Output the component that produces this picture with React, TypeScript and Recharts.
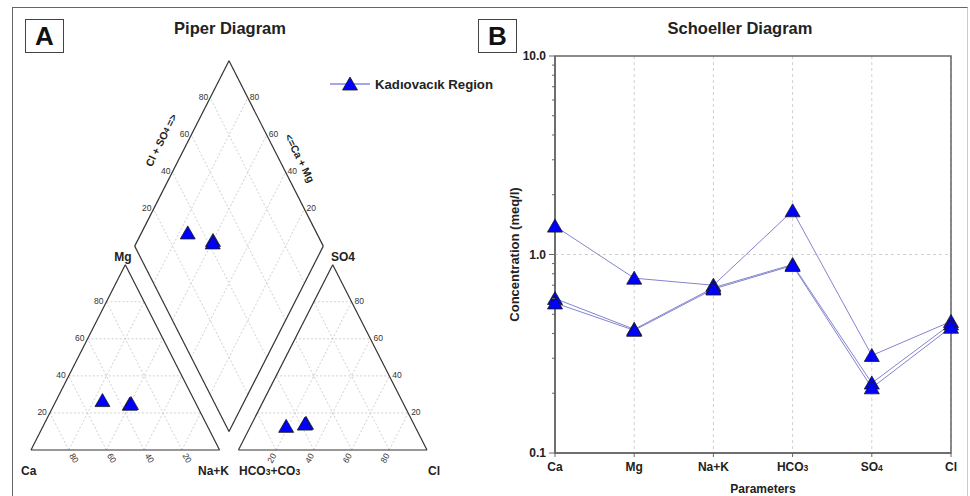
import React from 'react';
import {
  ScatterChart, Scatter, XAxis, YAxis, ReferenceLine, ReferenceArea,
  LineChart, Line, CartesianGrid, Label,
} from 'recharts';

// Schoeller values (meq/l), one array per sample
const params = ['Ca', 'Mg', 'Na+K', 'HCO3', 'SO4', 'Cl'];
const sample1 = [1.39, 0.76, 0.70, 1.66, 0.31, 0.46];
const sample2 = [0.60, 0.42, 0.68, 0.89, 0.225, 0.447];
const sample3 = [0.57, 0.415, 0.67, 0.88, 0.213, 0.43];
const samples = [sample1, sample2, sample3];

const gridSteps = [20, 40, 60, 80];
const yTicks = [0.1, 0.2, 0.3, 0.4, 0.5, 0.6, 0.7, 0.8, 0.9, 1, 2, 3, 4, 5, 6, 7, 8, 9, 10];
const yMajor = [0.1, 1, 10];

const FONT = '"Liberation Sans", Arial, sans-serif';
const MARKER = '#0000ff';

// piper geometry (percent units)
const H = Math.sqrt(3) / 2;
const GAP = 10;
const ANION_X = 100 + GAP;
const tern = (ox: number, r: number, t: number) => ({ x: ox + r + t / 2, y: t * H });
const diamond = (a: number, c: number) => ({
  x: 100 + GAP / 2 + (a - c) / 2,
  y: GAP * H + (a + c) * H,
});

const piper = samples.map((s) => {
  const [ca, mg, nak, hco3, so4, cl] = s;
  const cat = ca + mg + nak;
  const an = hco3 + so4 + cl;
  const pMg = (mg / cat) * 100;
  const pNaK = (nak / cat) * 100;
  const pSO4 = (so4 / an) * 100;
  const pCl = (cl / an) * 100;
  return {
    cation: tern(0, pNaK, pMg),
    anion: tern(ANION_X, pCl, pSO4),
    diamond: diamond(pCl + pSO4, 100 - pNaK),
  };
});
const piperPoints = piper.flatMap((p) => [p.cation, p.anion, p.diamond]);

type Pt = { x: number; y: number };
const triGrid = (ox: number): Pt[][] =>
  gridSteps.flatMap((v) => [
    [tern(ox, 0, v), tern(ox, 100 - v, v)],
    [tern(ox, v, 0), tern(ox, v, 100 - v)],
    [tern(ox, 100 - v, 0), tern(ox, 0, 100 - v)],
  ]);
const diamondGrid: Pt[][] = gridSteps.flatMap((v) => [
  [diamond(v, 0), diamond(v, 100)],
  [diamond(0, v), diamond(100, v)],
]);
const outline = (pts: Pt[]): Pt[][] => pts.map((p, i) => [p, pts[(i + 1) % pts.length]]);
const outlines = [
  ...outline([tern(0, 0, 0), tern(0, 100, 0), tern(0, 0, 100)]),
  ...outline([tern(ANION_X, 0, 0), tern(ANION_X, 100, 0), tern(ANION_X, 0, 100)]),
  ...outline([diamond(0, 0), diamond(100, 0), diamond(100, 100), diamond(0, 100)]),
];
const gridSegs = [...triGrid(0), ...triGrid(ANION_X), ...diamondGrid];

const cationLeftTicks = gridSteps.map((v) => ({ ...tern(0, 0, v), label: v }));
const cationBottomTicks = gridSteps.map((v) => ({ ...tern(0, 100 - v, 0), label: v }));
const anionRightTicks = gridSteps.map((v) => ({ ...tern(ANION_X, 100 - v, v), label: v }));
const anionBottomTicks = gridSteps.map((v) => ({ ...tern(ANION_X, v, 0), label: v }));
const diamondLeftTicks = gridSteps.map((v) => ({ ...diamond(v, 100), label: v }));
const diamondRightTicks = gridSteps.map((v) => ({ ...diamond(100, v), label: v }));

const schoellerData = params.map((p, i) => ({
  param: p, s1: sample1[i], s2: sample2[i], s3: sample3[i],
}));

const tri = (cx: number, cy: number) =>
  `${cx},${cy - 7} ${cx - 7.5},${cy + 6} ${cx + 7.5},${cy + 6}`;

const Marker = (props: any) => {
  const { cx, cy } = props;
  if (cx == null || cy == null) return <g />;
  return <polygon points={tri(cx, cy)} fill={MARKER} stroke="#1a1a1a" strokeWidth={0.8} />;
};

const tickText = (dx: number, dy: number, anchor: string, angle = 0) => (props: any) => {
  const { cx, cy, payload } = props;
  const x = cx + dx;
  const y = cy + dy;
  return (
    <text x={x} y={y} textAnchor={anchor} dominantBaseline="central" fontSize={8.5}
      fill="#333" fontFamily={FONT}
      transform={angle ? `rotate(${angle} ${x} ${y})` : undefined}>
      {payload.label}
    </text>
  );
};

const XTick = (props: any) => {
  const { x, y, payload } = props;
  const v: string = payload.value;
  const m = v.match(/^(.*?)(\d)$/);
  return (
    <text x={x} y={y} dy="0.71em" textAnchor="middle" fontWeight="bold" fontSize={12}
      fill="#222" fontFamily={FONT}>
      {m ? (<><tspan>{m[1]}</tspan><tspan fontSize={8.5}>{m[2]}</tspan></>) : v}
    </text>
  );
};

const YTick = (props: any) => {
  const { x, y, payload } = props;
  const v = payload.value;
  const major = yMajor.includes(v);
  return (
    <g>
      <line x1={x + (major ? 2 : 5)} x2={x + 8} y1={y} y2={y} stroke="#666" strokeWidth={1} />
      {major && (
        <text x={x - 1} y={y} textAnchor="end" dominantBaseline="central" fontWeight="bold"
          fontSize={12} fill="#222" fontFamily={FONT}>
          {v.toFixed(1)}
        </text>
      )}
    </g>
  );
};

const boxStyle = (left: number): React.CSSProperties => ({
  position: 'absolute', left, top: 19, width: 39, height: 34, boxSizing: 'border-box',
  border: '1.5px solid #444', display: 'flex', alignItems: 'center', justifyContent: 'center',
  fontWeight: 'bold', fontSize: 26, fontFamily: FONT, color: '#111', background: '#fff',
});

const titleStyle = (center: number): React.CSSProperties => ({
  position: 'absolute', left: center - 120, width: 240, top: 20, textAlign: 'center',
  fontWeight: 'bold', fontSize: 16.5, lineHeight: 1, fontFamily: FONT, color: '#222',
});

const lbl = { fontWeight: 'bold' as const, fontSize: 12, fill: '#222', fontFamily: FONT };

export default function App() {
  return (
    <div style={{ position: 'absolute', left: 0, top: 0, width: 970, height: 496, background: '#fff', overflow: 'hidden' }}>
      <div style={{ position: 'absolute', left: 12, top: 7, width: 956, height: 500, boxSizing: 'border-box', borderLeft: '1.5px solid #666', borderTop: '1.5px solid #666', borderRight: '1px solid #ccc' }} />

      {/* Piper diagram */}
      <div style={{ position: 'absolute', left: 0, top: 0 }}>
        <ScatterChart width={450} height={496} margin={{ top: 22, right: 23, bottom: 46, left: 31 }}>
          <XAxis type="number" dataKey="x" domain={[0, 210]} hide />
          <YAxis type="number" dataKey="y" domain={[0, 200]} hide />
          {gridSegs.map((s, i) => (
            <ReferenceLine key={`g${i}`} segment={s} stroke="#c4c4c4" strokeWidth={0.8}
              strokeDasharray="2 2" ifOverflow="visible" />
          ))}
          {outlines.map((s, i) => (
            <ReferenceLine key={`o${i}`} segment={s} stroke="#333" strokeWidth={1.2} ifOverflow="visible" />
          ))}
          <Scatter data={cationLeftTicks} shape={tickText(-3, -1, 'end')} isAnimationActive={false} />
          <Scatter data={cationBottomTicks} shape={tickText(3, 4, 'start', 60)} isAnimationActive={false} />
          <Scatter data={anionRightTicks} shape={tickText(3, -1, 'start')} isAnimationActive={false} />
          <Scatter data={anionBottomTicks} shape={tickText(-2, 4, 'end', -60)} isAnimationActive={false} />
          <Scatter data={diamondLeftTicks} shape={tickText(-2, -1, 'end')} isAnimationActive={false} />
          <Scatter data={diamondRightTicks} shape={tickText(2, -1, 'start')} isAnimationActive={false} />
          <Scatter data={piperPoints} shape={Marker} isAnimationActive={false} />
        </ScatterChart>
      </div>
      <svg width={970} height={496} style={{ position: 'absolute', left: 0, top: 0, pointerEvents: 'none' }}>
        <g>
          <text x={21} y={475} {...lbl}>Ca</text>
          <text x={229} y={475} textAnchor="end" {...lbl}>Na+K</text>
          <text x={123} y={261} textAnchor="middle" {...lbl}>Mg</text>
          <text x={239} y={475} {...lbl}>HCO<tspan fontSize={8.5}>3</tspan>+CO<tspan fontSize={8.5}>3</tspan></text>
          <text x={434} y={475} textAnchor="middle" {...lbl}>Cl</text>
          <text x={343} y={261} textAnchor="middle" {...lbl}>SO4</text>
          <text x={161} y={140} textAnchor="middle" dominantBaseline="central" transform="rotate(-63.3 161 140)"
            {...lbl} fontSize={10.5}>Cl + SO<tspan fontSize={8}>4</tspan> =&gt;</text>
          <text x={300} y={158} textAnchor="middle" dominantBaseline="central" transform="rotate(63.3 300 158)"
            {...lbl} fontSize={10.5}>&lt;=Ca + Mg</text>
        </g>
        <line x1={330} x2={370} y1={84} y2={84} stroke="#4a4ae0" strokeWidth={1.2} />
        <polygon points={tri(350, 84)} fill={MARKER} stroke="#1a1a1a" strokeWidth={0.8} />
        <text x={375} y={88.5} {...lbl} fontSize={13.2}>Kadıovacık Region</text>
      </svg>
      <div style={boxStyle(25)}>A</div>
      <div style={titleStyle(230)}>Piper Diagram</div>

      {/* Schoeller diagram */}
      <div style={{ position: 'absolute', left: 460, top: 0 }}>
        <LineChart width={510} height={496} data={schoellerData}
          margin={{ top: 56, right: 19, bottom: 3, left: 50 }}>
          <CartesianGrid horizontal={false} stroke="#d0d0d0" strokeDasharray="3 3" />
          <ReferenceLine y={1} stroke="#d0d0d0" strokeDasharray="3 3" />
          <XAxis dataKey="param" interval={0} height={40} tick={<XTick />} tickSize={4} tickMargin={5}
            tickLine={{ stroke: '#666' }} axisLine={{ stroke: '#666', strokeWidth: 1.5 }}>
            <Label value="Parameters" position="insideBottom" offset={0} dx={10} style={lbl} />
          </XAxis>
          <YAxis scale="log" domain={[0.1, 10]} ticks={yTicks} interval={0} width={45} tick={<YTick />}
            tickLine={false} axisLine={{ stroke: '#666', strokeWidth: 1.5 }}>
            <Label value="Concentration (meq/l)" angle={-90} position="insideLeft" offset={4}
              style={{ ...lbl, fontSize: 13, textAnchor: 'middle' }} />
          </YAxis>
          <ReferenceArea x1="Ca" x2="Cl" y1={0.1} y2={10} fill="none" stroke="#666" strokeWidth={1.5} />
          {['s1', 's2', 's3'].map((k) => (
            <Line key={k} dataKey={k} type="linear" stroke="#8484cf" strokeWidth={1}
              dot={Marker} activeDot={false} isAnimationActive={false} />
          ))}
        </LineChart>
      </div>
      <div style={boxStyle(478)}>B</div>
      <div style={titleStyle(740)}>Schoeller Diagram</div>
    </div>
  );
}
